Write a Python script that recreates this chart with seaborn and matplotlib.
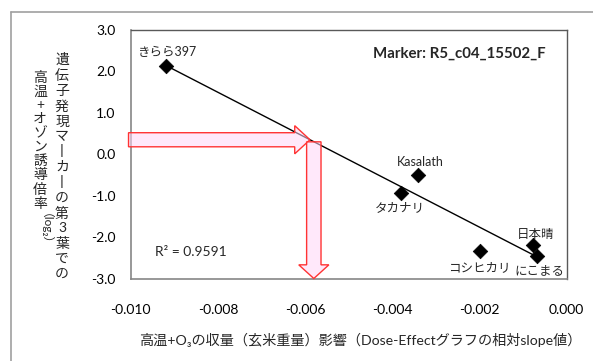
import matplotlib
matplotlib.use("Agg")
import matplotlib.pyplot as plt
from matplotlib.patches import FancyArrow
from matplotlib.lines import Line2D
from matplotlib.ticker import FormatStrFormatter
import numpy as np
import pandas as pd
import seaborn as sns

# Cultivars and their values
cultivars = ["きらら397", "Kasalath", "タカナリ", "コシヒカリ", "日本晴", "にこまる"]
yield_slope = [-0.0092, -0.0034, -0.0038, -0.0020, -0.00078, -0.00068]
induction_log2 = [2.13, -0.51, -0.925, -2.34, -2.20, -2.45]

x_ticks = [-0.010, -0.008, -0.006, -0.004, -0.002, 0.000]
y_ticks = [-3.0, -2.0, -1.0, 0.0, 1.0, 2.0, 3.0]

r2_text = "R² = 0.9591"
marker_name = "Marker: R5_c04_15502_F"
x_label = "高温+O₃の収量（玄米重量）影響（Dose-Effectグラフの相対slope値）"
y_label_col1 = "遺伝子発現マ丨カ丨の第3葉での"
y_label_col2 = "高温+オゾン誘導倍率"
y_label_unit = "（log₂）"

# reading guide: induction level read across to the line, then down to the axis
arrow_level = 0.35
drop_x = -0.0058

# label offsets (points) for each cultivar name
label_offsets = [(1.5, 10), (1, 9.5), (-1, -10.5), (-0.5, -11.5), (2, 8.5), (2, -10.5)]

sns.set_style("white")
plt.rcParams["font.family"] = ["Lato", "Noto Sans CJK JP", "DejaVu Sans"]
plt.rcParams["axes.unicode_minus"] = False

df = pd.DataFrame({"cultivar": cultivars, "slope": yield_slope, "induction": induction_log2})

W, H = 593, 361
fig = plt.figure(figsize=(W / 100, H / 100), dpi=100)
ax = fig.add_axes([130.7 / W, 1 - 278.5 / H, (566.7 - 130.7) / W, (278.5 - 30) / H])

sns.regplot(data=df, x="slope", y="induction", scatter=False, ci=None,
            color="black", line_kws={"lw": 1.0}, ax=ax)
sns.scatterplot(data=df, x="slope", y="induction", marker="D", s=55,
                color="black", edgecolor="black", linewidth=0.5, zorder=5, ax=ax)

ax.set_xlim(-0.010, 0.0)
ax.set_ylim(-3.0, 3.0)
ax.set_xticks(x_ticks)
ax.set_yticks(y_ticks)
ax.xaxis.set_major_formatter(FormatStrFormatter("%.3f"))
ax.yaxis.set_major_formatter(FormatStrFormatter("%.1f"))
ax.tick_params(axis="both", labelsize=10, colors="#868686", labelcolor="black",
               length=4, width=1, direction="out")
ax.tick_params(axis="x", pad=14)
ax.tick_params(axis="y", pad=7)
ax.set_xlabel("")
ax.set_ylabel("")
for side in ["left", "bottom"]:
    ax.spines[side].set_color("#868686")
    ax.spines[side].set_linewidth(1.2)
for side in ["top", "right"]:
    ax.spines[side].set_color("#595959")
    ax.spines[side].set_linewidth(1.0)

for name, xv, yv, off in zip(cultivars, yield_slope, induction_log2, label_offsets):
    ax.annotate(name, (xv, yv), xytext=off, textcoords="offset points",
                ha="center", va="center", fontsize=9)

# fitted line used for the reading guide
slope, intercept = np.polyfit(yield_slope, induction_log2, 1)
x_hit = (arrow_level - intercept) / slope

arrow_style = dict(facecolor=(1.0, 0.84, 0.97, 0.55), edgecolor="#FF3333",
                   linewidth=1.0, length_includes_head=True, clip_on=False, zorder=6)
h_start = -0.01005
ax.add_patch(FancyArrow(h_start, arrow_level, x_hit - h_start, 0,
                        width=0.34, head_width=0.68, head_length=0.00035, **arrow_style))
ax.add_patch(FancyArrow(drop_x, 0.30, 0, -3.0 - 0.30,
                        width=0.00033, head_width=0.00069, head_length=0.33, **arrow_style))

ax.text(155 / W, 1 - 251.5 / H, r2_text, transform=fig.transFigure,
        fontsize=10, ha="left", va="center")
ax.text(373 / W, 1 - 54 / H, marker_name, transform=fig.transFigure,
        fontsize=10.8, fontweight="bold", ha="left", va="center")

fig.text(139.5 / W, 1 - 340 / H, x_label, fontsize=10.2, ha="left", va="center")

# vertical stacked y-axis title
fig.text(62 / W, 1 - 53 / H, "\n".join(y_label_col1), fontsize=10,
         ha="center", va="top", linespacing=1.27)
fig.text(40 / W, 1 - 71 / H, "\n".join(y_label_col2), fontsize=10,
         ha="center", va="top", linespacing=1.14)
fig.text(40 / W, 1 - 213 / H, y_label_unit, fontsize=8.5, rotation=-90,
         ha="center", va="top")

# chart frame
fig.add_artist(Line2D([10.5 / W, 10.5 / W], [0, 1 - 12 / H], color="#a0a0a0",
                      lw=1.2, transform=fig.transFigure))
fig.add_artist(Line2D([10.5 / W, 1], [1 - 12 / H, 1 - 12 / H], color="#a0a0a0",
                      lw=1.2, transform=fig.transFigure))

fig.savefig("out.png", dpi=100)
